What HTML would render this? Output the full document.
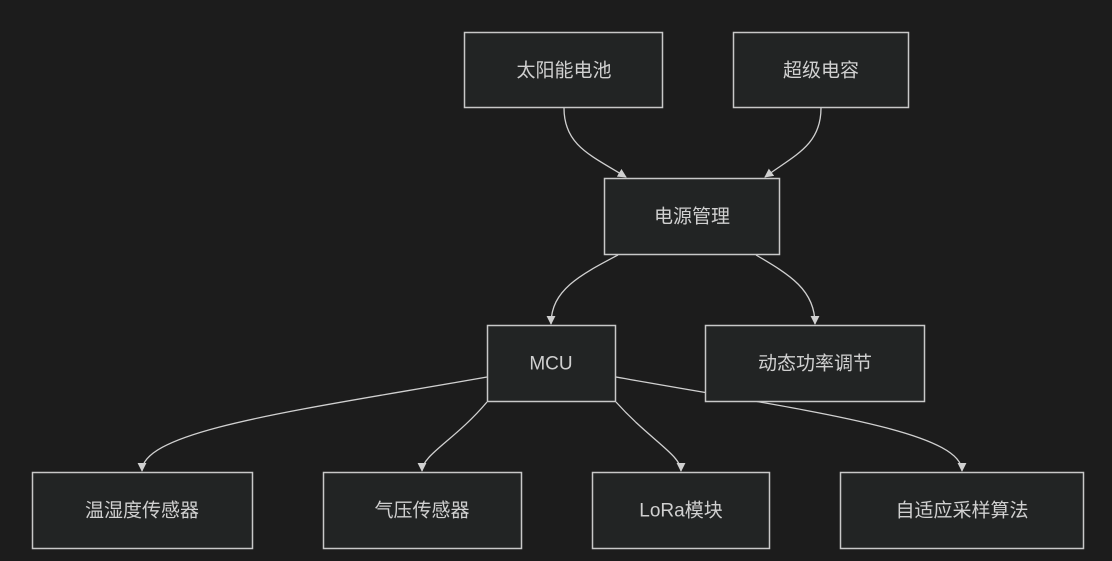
<!DOCTYPE html>
<html><head><meta charset="utf-8"><style>
html,body{margin:0;padding:0;background:#1c1c1c;}
svg{display:block}
text{font-family:"Liberation Sans","Noto Sans CJK SC",sans-serif;font-size:19px;fill:#d0d0d0;text-anchor:middle;dominant-baseline:central}
.b{fill:#222424;stroke:#c8c8c8;stroke-width:1.5}
.e{fill:none;stroke:#d0d0d0;stroke-width:1.3}
</style></head><body>
<svg width="1112" height="561" viewBox="0 0 1112 561">
<defs><marker id="a" viewBox="0 0 10 10" refX="9" refY="5" markerWidth="9" markerHeight="9" orient="auto" markerUnits="userSpaceOnUse"><path d="M0,0L10,5L0,10z" fill="#d0d0d0"/></marker></defs>
<path class="e" d="M564,108 C564,145 590,155 626,177" marker-end="url(#a)"/>
<path class="e" d="M821,108 C821,145 795,155 765,177" marker-end="url(#a)"/>
<path class="e" d="M618,255 C580,275 551,290 551,324" marker-end="url(#a)"/>
<path class="e" d="M756,255 C790,275 815,290 815,324" marker-end="url(#a)"/>
<path class="e" d="M487,377 C300,410 142,430 142,471" marker-end="url(#a)"/>
<path class="e" d="M487,402 C455,440 422,455 422,471" marker-end="url(#a)"/>
<path class="e" d="M616,402 C650,440 681,455 681,471" marker-end="url(#a)"/>
<path class="e" d="M616,377 C800,410 962,430 962,471" marker-end="url(#a)"/>
<rect class="b" x="464.5" y="32.5" width="198" height="75"/><text x="564" y="71">太阳能电池</text>
<rect class="b" x="733.5" y="32.5" width="175" height="75"/><text x="821" y="71">超级电容</text>
<rect class="b" x="604.5" y="178.5" width="175" height="76"/><text x="692" y="217">电源管理</text>
<rect class="b" x="487.5" y="325.5" width="128" height="76"/><text x="551" y="364">MCU</text>
<rect class="b" x="705.5" y="325.5" width="219" height="76"/><text x="815" y="364">动态功率调节</text>
<rect class="b" x="32.5" y="472.5" width="220" height="76"/><text x="142" y="511">温湿度传感器</text>
<rect class="b" x="323.5" y="472.5" width="198" height="76"/><text x="422" y="511">气压传感器</text>
<rect class="b" x="592.5" y="472.5" width="177" height="76"/><text x="681" y="511">LoRa模块</text>
<rect class="b" x="840.5" y="472.5" width="243" height="76"/><text x="962" y="511">自适应采样算法</text>
</svg>
</body></html>
